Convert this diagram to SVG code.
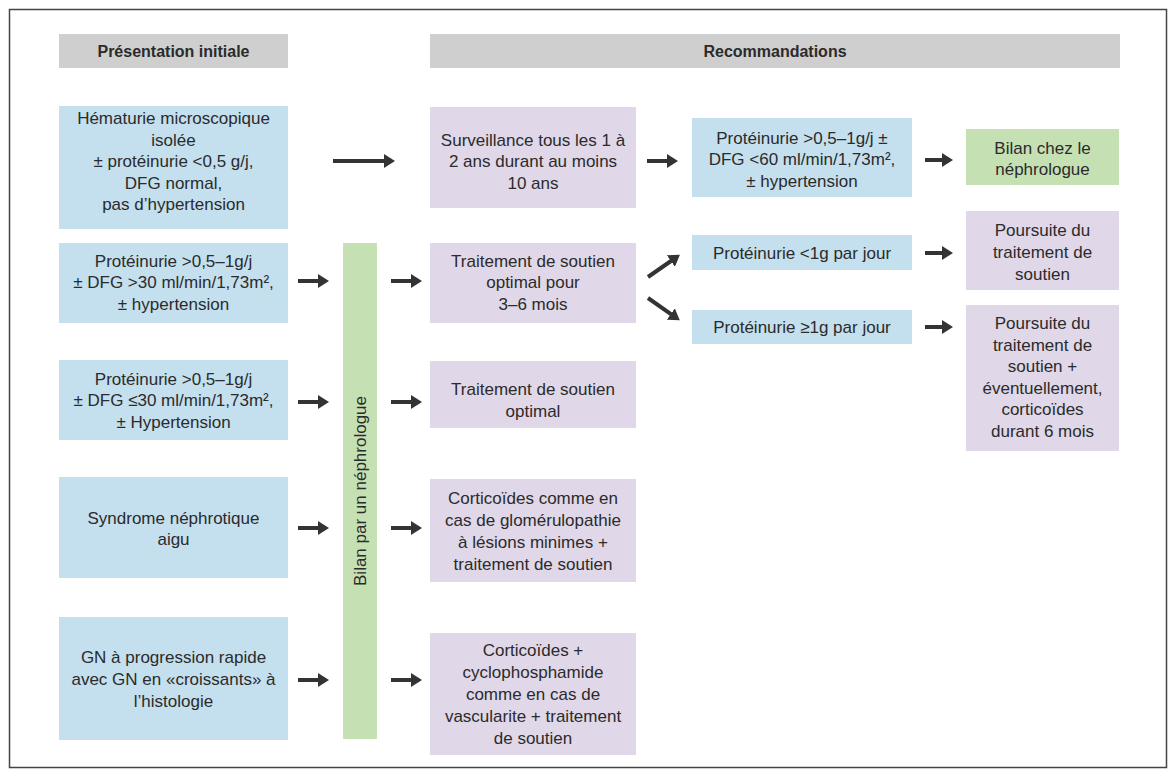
<svg xmlns="http://www.w3.org/2000/svg" width="1176" height="776" viewBox="0 0 1176 776">
<style>
  text { font-family: "Liberation Sans", Arial, sans-serif; font-size: 17px; fill: #2b2b2b; text-anchor: middle; }
  .hd { font-weight: bold; font-size: 16px; }
  .gray { fill: #cfcfcf; }
  .blue { fill: #c4dfee; }
  .purple { fill: #e0d7e8; }
  .green { fill: #c5e0b3; }
  .conn line { stroke: #333333; stroke-width: 4; marker-end: url(#ah); }
</style>
<defs>
  <marker id="ah" viewBox="0 0 11 14" refX="1" refY="7" markerWidth="11" markerHeight="14" markerUnits="userSpaceOnUse" orient="auto">
    <path d="M0,0 L11,7 L0,14 z" fill="#333333"/>
  </marker>
</defs>
<rect x="0" y="0" width="1176" height="776" fill="#ffffff"/>
<rect x="9.5" y="9.5" width="1157" height="758" fill="none" stroke="#444444" stroke-width="1.5"/>

<g id="header-presentation">
  <rect class="gray" x="59" y="34" width="229" height="34"/>
  <text class="hd" x="173.5" y="57">Présentation initiale</text>
</g>
<g id="header-recommandations">
  <rect class="gray" x="430" y="34" width="690" height="34"/>
  <text class="hd" x="775" y="57">Recommandations</text>
</g>

<g id="a1">
  <rect class="blue" x="59" y="106" width="229" height="123"/>
  <text x="173.5" y="124">Hématurie microscopique</text>
  <text x="173.5" y="145.5">isolée</text>
  <text x="173.5" y="167">± protéinurie &lt;0,5 g/j,</text>
  <text x="173.5" y="188.5">DFG normal,</text>
  <text x="173.5" y="210">pas d’hypertension</text>
</g>
<g id="b1">
  <rect class="purple" x="430" y="107" width="206" height="101"/>
  <text x="533" y="145.5">Surveillance tous les 1 à</text>
  <text x="533" y="167">2 ans durant au moins</text>
  <text x="533" y="188.5">10 ans</text>
</g>
<g id="c1">
  <rect class="blue" x="692" y="118" width="220" height="79"/>
  <text x="802" y="143.5">Protéinurie &gt;0,5–1g/j ±</text>
  <text x="802" y="165">DFG &lt;60 ml/min/1,73m²,</text>
  <text x="802" y="186.5">± hypertension</text>
</g>
<g id="d1">
  <rect class="green" x="966" y="129" width="153" height="56"/>
  <text x="1042.5" y="153.5">Bilan chez le</text>
  <text x="1042.5" y="175">néphrologue</text>
</g>

<g id="a2">
  <rect class="blue" x="59" y="243" width="229" height="80"/>
  <text x="173.5" y="266.5">Protéinurie &gt;0,5–1g/j</text>
  <text x="173.5" y="288">± DFG &gt;30 ml/min/1,73m²,</text>
  <text x="173.5" y="309.5">± hypertension</text>
</g>
<g id="bilan-nephrologue">
  <rect class="green" x="343" y="243" width="34" height="496"/>
  <text transform="translate(366,491) rotate(-90)" x="0" y="0">Bilan par un néphrologue</text>
</g>
<g id="b2">
  <rect class="purple" x="430" y="243" width="206" height="80"/>
  <text x="533" y="266.5">Traitement de soutien</text>
  <text x="533" y="288">optimal pour</text>
  <text x="533" y="309.5">3–6 mois</text>
</g>
<g id="c2">
  <rect class="blue" x="692" y="235" width="220" height="35"/>
  <text x="802" y="258.5">Protéinurie &lt;1g par jour</text>
</g>
<g id="d2">
  <rect class="purple" x="966" y="211" width="153" height="79"/>
  <text x="1042.5" y="235.5">Poursuite du</text>
  <text x="1042.5" y="257.5">traitement de</text>
  <text x="1042.5" y="279.5">soutien</text>
</g>
<g id="c3">
  <rect class="blue" x="692" y="310" width="220" height="34"/>
  <text x="802" y="332.5">Protéinurie ≥1g par jour</text>
</g>
<g id="d3">
  <rect class="purple" x="966" y="305" width="153" height="146"/>
  <text x="1042.5" y="329">Poursuite du</text>
  <text x="1042.5" y="350.5">traitement de</text>
  <text x="1042.5" y="372">soutien +</text>
  <text x="1042.5" y="393.5">éventuellement,</text>
  <text x="1042.5" y="415">corticoïdes</text>
  <text x="1042.5" y="436.5">durant 6 mois</text>
</g>

<g id="a3">
  <rect class="blue" x="59" y="360" width="229" height="80"/>
  <text x="173.5" y="384.5">Protéinurie &gt;0,5–1g/j</text>
  <text x="173.5" y="406">± DFG ≤30 ml/min/1,73m²,</text>
  <text x="173.5" y="427.5">± Hypertension</text>
</g>
<g id="b3">
  <rect class="purple" x="430" y="361" width="206" height="67"/>
  <text x="533" y="394.5">Traitement de soutien</text>
  <text x="533" y="416.5">optimal</text>
</g>

<g id="a4">
  <rect class="blue" x="59" y="477" width="229" height="101"/>
  <text x="173.5" y="523.5">Syndrome néphrotique</text>
  <text x="173.5" y="545">aigu</text>
</g>
<g id="b4">
  <rect class="purple" x="430" y="479" width="206" height="103"/>
  <text x="533" y="503.5">Corticoïdes comme en</text>
  <text x="533" y="525.5">cas de glomérulopathie</text>
  <text x="533" y="547.5">à lésions minimes +</text>
  <text x="533" y="569.5">traitement de soutien</text>
</g>

<g id="a5">
  <rect class="blue" x="59" y="617" width="229" height="123"/>
  <text x="173.5" y="662.5">GN à progression rapide</text>
  <text x="173.5" y="684.5">avec GN en «croissants» à</text>
  <text x="173.5" y="706.5">l’histologie</text>
</g>
<g id="b5">
  <rect class="purple" x="430" y="633" width="206" height="122"/>
  <text x="533" y="655.5">Corticoïdes +</text>
  <text x="533" y="677.5">cyclophosphamide</text>
  <text x="533" y="699.5">comme en cas de</text>
  <text x="533" y="721.5">vascularite + traitement</text>
  <text x="533" y="743.5">de soutien</text>
</g>

<g id="connectors" class="conn">
  <line x1="333" y1="161" x2="385" y2="161"/>
  <line x1="647" y1="161" x2="668" y2="161"/>
  <line x1="925" y1="160" x2="943" y2="160"/>
  <line x1="298" y1="281" x2="319" y2="281"/>
  <line x1="391" y1="281" x2="412" y2="281"/>
  <line x1="648" y1="277" x2="671.7" y2="260.5"/>
  <line x1="648" y1="298" x2="671.6" y2="314.6"/>
  <line x1="925" y1="253" x2="943" y2="253"/>
  <line x1="925" y1="327" x2="943" y2="327"/>
  <line x1="298" y1="402" x2="319" y2="402"/>
  <line x1="391" y1="402" x2="412" y2="402"/>
  <line x1="298" y1="528" x2="319" y2="528"/>
  <line x1="391" y1="528" x2="412" y2="528"/>
  <line x1="298" y1="680" x2="319" y2="680"/>
  <line x1="391" y1="680" x2="412" y2="680"/>
</g>
</svg>
